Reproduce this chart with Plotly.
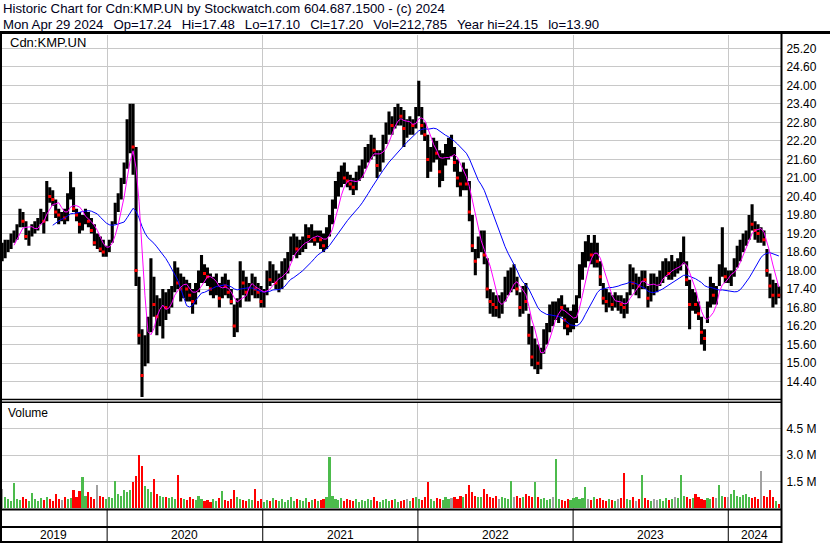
import pandas as pd
import plotly.graph_objects as go

# ---------------- data (weekly bars) ----------------
week_high = [
    18.9, 19.0, 19.0, 19.2, 19.3, 19.5, 20.0, 19.9, 19.6, 19.3,
    19.5, 19.6, 19.7, 20.0, 19.9, 20.9, 20.7, 20.6, 20.3, 20.0,
    19.9, 20.0, 20.5, 21.2, 20.7, 20.0, 19.9, 19.8, 20.0, 19.9,
    19.7, 19.5, 19.2, 19.1, 19.0, 18.8, 19.0, 19.6, 20.2, 20.5,
    21.0, 21.5, 22.9, 23.4,
    23.4, 22.0, 17.8, 16.1, 15.9, 16.5, 18.4, 17.8, 17.2, 17.1,
    17.4, 17.3, 17.4, 17.5, 18.3, 18.1, 17.9, 17.8, 17.7, 17.6,
    17.4, 17.6, 18.0, 18.5, 18.2, 18.1, 17.9, 17.8, 17.9, 17.6,
    17.8, 17.9, 17.7, 17.4, 16.9, 17.1, 18.3, 18.0, 17.8, 17.6,
    17.9, 17.8, 17.6,
    17.5, 17.4, 18.0, 18.3, 18.2, 18.0, 17.9, 18.3, 18.4, 18.6,
    19.1, 19.2, 19.1, 19.0, 19.1, 19.5, 19.4, 19.5, 19.3, 19.3, 19.3,
    19.2, 19.4, 19.8, 20.3, 20.9, 21.2, 21.4, 21.5, 21.2, 21.1,
    21.0, 21.2, 21.4, 21.6, 22.0, 22.1, 22.4, 22.3, 21.9, 21.9,
    22.4, 22.8, 23.15, 23.0,
    23.3, 23.4, 23.3, 23.2, 22.9, 23.0, 22.9, 23.3, 24.15, 23.3,
    22.8, 22.4, 22.0, 22.3, 22.2, 21.9, 21.8, 22.1, 22.3, 22.4,
    22.0, 21.6, 21.2, 21.5, 21.3, 20.9, 19.8, 18.7, 19.1, 19.3,
    19.3, 18.4, 17.4, 17.3, 17.2, 17.2, 17.3, 17.8, 18.0, 18.1,
    18.2, 17.8, 17.3,
    17.5, 17.6, 16.6, 16.2, 15.8, 15.6, 15.5, 16.1, 16.3, 16.9,
    17.0, 17.0, 17.1, 17.2, 16.9, 16.8, 16.7, 16.9, 17.2, 18.2,
    18.6, 18.95, 19.15, 18.9, 19.15, 18.9, 18.3, 17.6, 17.4, 17.3,
    17.2, 17.3, 17.2, 17.2, 17.1, 17.3, 18.2, 18.1, 17.9, 17.8, 18.0,
    18.0, 17.5, 17.9,
    17.9, 17.8, 18.0, 18.3, 18.4, 18.3, 18.5, 18.3, 18.4, 18.6,
    19.1, 18.3, 17.7, 17.4, 17.3, 17.0, 16.5, 16.1, 17.0, 17.8,
    17.6, 17.5, 18.2, 19.4, 18.1, 18.0, 18.0, 18.4, 18.8, 19.0,
    19.2, 19.3, 19.8, 20.15, 19.6, 19.5, 19.4, 19.3, 18.7, 17.9,
    17.7, 17.6, 17.48,
]

week_low = [
    18.3, 18.4, 18.6, 18.7, 18.9, 19.0, 19.4, 19.4, 19.0, 18.8,
    19.1, 19.2, 19.3, 19.5, 19.2, 19.6, 20.2, 20.1, 19.7, 19.5,
    19.6, 19.5, 19.6, 20.3, 19.9, 19.6, 19.2, 19.3, 19.5, 19.4,
    19.2, 18.8, 18.7, 18.6, 18.45, 18.45, 18.6, 18.9, 19.5, 19.9,
    20.3, 20.8, 21.3, 21.8,
    21.1, 17.5, 15.6, 13.9, 14.9, 15.0, 16.0, 16.5, 15.9, 16.2,
    15.8, 16.4, 16.6, 16.8, 17.3, 17.4, 17.0, 17.1, 17.0, 17.0,
    16.6, 16.9, 17.3, 17.6, 17.6, 17.5, 17.2, 17.1, 17.2, 16.8,
    17.1, 17.2, 17.1, 16.9, 15.85, 16.0, 16.8, 17.2, 17.0, 17.0,
    17.2, 17.1, 17.1,
    16.8, 16.8, 17.2, 17.5, 17.6, 17.4, 17.3, 17.4, 17.7, 17.9,
    18.3, 18.5, 18.4, 18.5, 18.6, 18.7, 18.9, 18.9, 18.8, 18.9, 18.7,
    18.6, 18.7, 19.1, 19.5, 20.0, 20.4, 20.7, 20.8, 20.7, 20.6,
    20.45, 20.6, 20.9, 21.0, 21.3, 21.5, 21.6, 21.7, 21.0, 21.2,
    21.5, 22.1, 22.4, 22.4,
    22.6, 22.7, 22.7, 22.0, 22.3, 22.4, 22.4, 22.6, 23.0, 22.4,
    22.2, 21.0, 21.2, 21.5, 21.6, 20.7, 20.9, 21.4, 21.6, 21.7,
    21.2, 20.7, 20.4, 20.6, 20.6, 19.6, 18.6, 17.85, 18.4, 18.6,
    18.2, 17.1, 16.6, 16.5, 16.5, 16.45, 16.6, 17.0, 17.2, 17.3,
    17.4, 17.2, 16.5,
    16.6, 16.7, 15.6, 14.9, 14.8, 14.65, 14.8, 15.3, 15.6, 16.0,
    16.2, 16.4, 16.3, 16.5, 16.1, 15.9, 16.0, 16.1, 16.3, 17.1,
    17.7, 18.1, 18.3, 18.2, 18.1, 18.1, 17.5, 16.9, 16.65, 16.8,
    16.7, 16.8, 16.7, 16.6, 16.45, 16.6, 17.2, 17.4, 17.2, 17.1, 17.4,
    17.4, 16.8, 17.0,
    17.2, 17.3, 17.5, 17.6, 17.8, 17.7, 17.7, 17.8, 17.9, 18.0,
    18.2, 17.5, 16.1, 16.7, 16.6, 16.4, 15.6, 15.4, 16.3, 16.8,
    16.9, 16.9, 17.5, 17.8, 17.6, 17.6, 17.5, 17.8, 18.1, 18.3,
    18.6, 18.8, 19.0, 19.3, 19.0, 18.9, 18.9, 18.8, 17.8, 17.1,
    16.8, 16.9, 17.1,
]

week_close = [
    18.5, 18.7, 18.8, 19.0, 19.1, 19.4, 19.8, 19.6, 19.1, 19.2,
    19.4, 19.5, 19.6, 19.8, 19.6, 20.6, 20.4, 20.3, 19.9, 19.8,
    19.8, 19.7, 20.3, 20.7, 20.0, 19.8, 19.5, 19.7, 19.8, 19.6,
    19.3, 18.9, 18.9, 18.7, 18.6, 18.7, 18.9, 19.5, 20.0, 20.3,
    20.8, 21.3, 22.5, 22.8,
    22.0, 18.0, 15.9, 14.6, 15.4, 16.2, 17.5, 16.9, 16.5, 16.6,
    16.9, 16.8, 17.1, 17.3, 17.9, 17.6, 17.4, 17.5, 17.4, 17.2,
    17.0, 17.4, 17.8, 18.1, 17.9, 17.8, 17.4, 17.5, 17.6, 17.1,
    17.6, 17.5, 17.3, 17.0, 16.2, 16.9, 17.9, 17.6, 17.3, 17.5,
    17.6, 17.4, 17.3,
    17.0, 17.2, 17.8, 17.7, 17.9, 17.6, 17.7, 18.0, 18.2, 18.4,
    18.8, 18.9, 18.7, 18.8, 18.9, 19.2, 19.1, 19.2, 19.0, 19.1, 19.0,
    18.8, 19.2, 19.6, 20.1, 20.6, 20.8, 21.1, 21.0, 20.9, 20.8,
    20.7, 21.0, 21.2, 21.4, 21.7, 21.9, 22.0, 21.9, 21.4, 21.7,
    22.2, 22.6, 22.9, 22.7,
    22.9, 23.1, 23.0, 22.6, 22.6, 22.8, 22.7, 23.1, 23.4, 22.7,
    22.4, 21.6, 21.7, 22.0, 21.8, 21.2, 21.5, 21.8, 22.0, 22.0,
    21.5, 21.0, 20.8, 21.1, 20.8, 19.9, 18.8, 18.3, 18.8, 19.0,
    18.5, 17.4, 17.0, 16.9, 16.8, 16.8, 17.0, 17.5, 17.7, 17.8,
    17.8, 17.4, 16.8,
    17.1, 17.0, 15.9, 15.2, 15.3, 15.0, 15.3, 15.9, 16.1, 16.6,
    16.6, 16.8, 16.9, 16.8, 16.4, 16.2, 16.4, 16.5, 16.9, 17.9,
    18.3, 18.6, 18.6, 18.5, 18.8, 18.3, 17.8, 17.1, 17.0, 17.1,
    16.9, 17.0, 17.0, 16.9, 16.8, 17.0, 17.8, 17.6, 17.6, 17.5, 17.8,
    17.7, 17.1, 17.6,
    17.6, 17.6, 17.8, 18.0, 18.1, 17.9, 18.1, 18.1, 18.2, 18.4,
    18.5, 17.7, 16.9, 17.0, 16.9, 16.6, 16.0, 15.8, 16.8, 17.4,
    17.2, 17.2, 17.9, 18.0, 17.8, 17.8, 17.9, 18.2, 18.6, 18.8,
    19.0, 19.1, 19.6, 19.5, 19.3, 19.2, 19.2, 19.0, 18.0, 17.5,
    17.2, 17.4, 17.2,
]

volume_m = [
    1.1, 0.6, 0.5, 0.4, 1.4, 0.5, 0.45, 0.6, 0.5, 0.4,
    0.85, 0.5, 0.4, 0.55, 0.45, 0.6, 0.5, 0.4, 0.8, 0.5,
    0.45, 0.6, 0.5, 0.55, 1.05, 0.6, 0.95, 1.75, 0.7, 0.9,
    0.6, 0.5, 1.3, 0.7, 0.6, 0.5, 0.6, 0.55, 1.55, 0.8,
    0.7, 1.05, 0.9, 1.0, 1.45, 1.8, 3.0, 2.4, 1.25, 1.1,
    0.9, 1.65, 0.8, 0.7, 0.6, 0.65, 0.55, 0.6, 0.5, 1.9,
    0.55, 0.5, 0.45, 0.6, 0.5, 0.45, 0.7, 0.5, 0.4, 0.45,
    0.35, 0.5, 0.4, 0.55, 0.95, 0.45, 0.4, 0.5, 1.0, 0.6,
    0.5, 0.45, 0.4, 0.5, 0.45, 1.1, 0.4, 0.5, 0.35, 0.45,
    0.4, 0.55, 0.45, 0.4, 0.5, 0.35, 0.45, 0.6, 0.4, 0.5,
    0.45, 0.4, 0.55, 0.35, 0.45, 0.5, 0.4, 0.45, 0.5, 0.6,
    2.9, 0.7, 0.5, 0.45, 0.55, 0.4, 0.5, 0.45, 0.4, 0.5,
    0.35, 0.45, 0.4, 0.5, 0.45, 0.6, 0.4, 0.35, 0.45, 0.5,
    0.4, 0.45, 0.5, 0.35, 0.4, 0.45, 0.5, 0.4, 0.55, 0.6,
    0.5, 0.45, 0.6, 1.45, 0.5, 0.4, 0.55, 0.5, 0.45, 0.6,
    0.5, 0.55, 0.6, 0.5, 0.7, 0.6, 0.8, 1.3, 0.9, 0.7,
    0.6, 0.65, 1.1, 0.8, 0.6, 0.55, 0.7, 0.5, 0.6, 0.55,
    0.5, 1.55, 0.6, 0.7, 0.55, 0.6, 0.8, 0.7, 0.6, 1.45,
    0.6, 0.5, 0.55, 0.45, 0.5, 0.6, 2.8, 0.5, 0.45, 0.4,
    0.5, 0.45, 0.55, 0.6, 0.5, 0.55, 1.2, 0.5, 0.45, 0.6,
    0.5, 0.55, 0.45, 0.4, 0.5, 0.45, 0.4, 0.5, 0.55, 2.0,
    0.5, 0.45, 0.6, 0.4, 0.5, 1.9, 0.55, 0.45, 0.4, 0.5,
    0.45, 0.5, 0.4, 0.55, 0.45, 0.5, 0.6, 0.55, 1.9, 0.7,
    0.6, 0.5, 0.55, 0.8, 0.6, 0.5, 0.45, 0.55, 0.5, 0.6,
    0.55, 1.3, 0.7, 0.6, 0.65, 0.8, 1.0, 0.7, 0.6, 0.75,
    0.8, 0.6, 0.55, 0.6, 0.5, 2.1, 0.7, 0.6, 1.0, 0.6, 0.4, 0.2,
]

price_ticks = [14.4, 15.0, 15.6, 16.2, 16.8, 17.4, 18.0, 18.6, 19.2, 19.8,
               20.4, 21.0, 21.6, 22.2, 22.8, 23.4, 24.0, 24.6, 25.2]
volume_ticks = [1.5, 3.0, 4.5]
volume_tick_text = ["1.5 M", "3.0 M", "4.5 M"]
years = [2019, 2020, 2021, 2022, 2023, 2024]

header_1 = "Historic Chart for Cdn:KMP.UN by Stockwatch.com 604.687.1500 - (c) 2024"
header_2_parts = ["Mon Apr 29 2024", "Op=17.24", "Hi=17.48", "Lo=17.10", "Cl=17.20",
                  "Vol=212,785", "Year hi=24.15", "lo=13.90"]

# ---------------- derived ----------------
dates = pd.date_range("2019-04-29", periods=len(week_close), freq="W-MON")
close_s = pd.Series(week_close, index=dates)
ma_short = close_s.rolling(5).mean()
ma_long = close_s.rolling(18).mean()
chg = close_s.diff().fillna(0)

W, H = 830, 543
def fx(px):
    return px / W
def fy(py):
    return 1 - py / H

X0 = pd.Timestamp("2019-04-24")
X1 = pd.Timestamp("2024-05-04")
PLOT_R = 781

FONT = "Arial, Liberation Sans, sans-serif"

# price bars as vertical segments
bx, by = [], []
for d, hi, lo in zip(dates, week_high, week_low):
    bx += [d, d, None]
    by += [lo, hi, None]

down = chg < 0
vol_colors = ["#ff0000" if c < 0 else ("#4cbb4c" if c > 0 else "#a0a0a0") for c in chg]

fig = go.Figure()
fig.add_trace(go.Scatter(x=bx, y=by, mode="lines", line=dict(color="black", width=3.1),
                         xaxis="x", yaxis="y", hoverinfo="skip", showlegend=False))
fig.add_trace(go.Scatter(x=dates[down.values], y=close_s[down].values, mode="markers",
                         marker=dict(color="red", size=3, symbol="square", line=dict(width=0)),
                         xaxis="x", yaxis="y", showlegend=False))
fig.add_trace(go.Scatter(x=dates, y=ma_long, mode="lines", line=dict(color="#0000ff", width=1),
                         xaxis="x", yaxis="y", showlegend=False))
fig.add_trace(go.Scatter(x=dates, y=ma_short, mode="lines", line=dict(color="#ff00ff", width=1),
                         xaxis="x", yaxis="y", showlegend=False))
fig.add_trace(go.Bar(x=dates, y=volume_m, marker=dict(color=vol_colors, line=dict(width=0)),
                     width=5 * 86400000, xaxis="x2", yaxis="y2", showlegend=False))

year_starts = [pd.Timestamp(f"{y}-01-01") for y in years[1:]]
grid = "#c8c8c8"
tickfont = dict(family=FONT, size=12, color="black")

fig.update_layout(
    width=W, height=H, autosize=False,
    margin=dict(l=0, r=0, t=0, b=0),
    paper_bgcolor="white", plot_bgcolor="white",
    showlegend=False,
    xaxis=dict(domain=[0, fx(PLOT_R)], anchor="y", range=[X0, X1], tickvals=year_starts,
               showticklabels=False, showgrid=True, gridcolor=grid, gridwidth=1,
               zeroline=False, showline=False, ticks=""),
    xaxis2=dict(domain=[0, fx(PLOT_R)], anchor="y2", range=[X0, X1], tickvals=year_starts,
                matches="x", showticklabels=False, showgrid=True, gridcolor=grid, gridwidth=1,
                zeroline=False, showline=False, ticks=""),
    yaxis=dict(domain=[fy(398.5), fy(35)], anchor="x", side="right",
               range=[13.854, 25.631], tickvals=price_ticks,
               ticktext=[f"{v:.2f}" for v in price_ticks], tickfont=tickfont,
               showgrid=True, gridcolor=grid, gridwidth=1, zeroline=False,
               showline=False, ticks="outside", ticklen=2, tickcolor="white"),
    yaxis2=dict(domain=[fy(509), fy(402)], anchor="x2", side="right",
                range=[-0.057, 6.02], tickvals=volume_ticks, ticktext=volume_tick_text,
                tickfont=tickfont, showgrid=True, gridcolor=grid, gridwidth=1,
                zeroline=False, showline=False, ticks="outside", ticklen=2, tickcolor="white"),
    bargap=0,
)

gap = "\u00a0\u00a0\u2009"
ann = []
ann.append(dict(text=header_1, x=fx(1), y=fy(9), xref="paper", yref="paper",
                xanchor="left", yanchor="middle", showarrow=False,
                font=dict(family=FONT, size=13.2, color="#000020")))
ann.append(dict(text=gap.join(header_2_parts), x=fx(1), y=fy(24), xref="paper",
                yref="paper", xanchor="left", yanchor="middle", showarrow=False,
                font=dict(family=FONT, size=13.2, color="#000020")))
ann.append(dict(text="Cdn:KMP.UN", x=fx(8), y=fy(42), xref="paper", yref="paper",
                xanchor="left", yanchor="middle", showarrow=False,
                font=dict(family=FONT, size=13, color="black")))
ann.append(dict(text="Volume", x=fx(6), y=fy(413), xref="paper", yref="paper",
                xanchor="left", yanchor="middle", showarrow=False,
                font=dict(family=FONT, size=12, color="black")))
for y in years:
    a = max(pd.Timestamp(f"{y}-01-01"), X0)
    b = min(pd.Timestamp(f"{y + 1}-01-01"), X1)
    mid = a + (b - a) / 2
    ann.append(dict(text=str(y), x=mid, y=fy(534.5), xref="x", yref="paper",
                    xanchor="center", yanchor="middle", showarrow=False,
                    font=dict(family=FONT, size=12, color="black")))
fig.update_layout(annotations=ann)

shapes = []
def hline(py, x0=0, x1=PLOT_R, w=2):
    shapes.append(dict(type="line", xref="paper", yref="paper", x0=fx(x0), x1=fx(x1),
                       y0=fy(py), y1=fy(py), line=dict(color="black", width=w)))
def vline(px, y0, y1, w=2):
    shapes.append(dict(type="line", xref="paper", yref="paper", x0=fx(px), x1=fx(px),
                       y0=fy(y0), y1=fy(y1), line=dict(color="black", width=w)))
hline(32.5, 0, W, 3)
hline(399.5, w=1.5)
hline(402.2, w=1.5)
hline(509.5, w=2)
hline(527, w=2)
hline(542, w=2)
vline(1, 32, H, 2)
vline(PLOT_R + 0.5, 32, H, 2)
for ys in year_starts:
    shapes.append(dict(type="line", xref="x", yref="paper", x0=ys, x1=ys,
                       y0=fy(542), y1=fy(510), line=dict(color="black", width=1)))
fig.update_layout(shapes=shapes)

fig.write_html("out.html", config={"displayModeBar": False},
               post_script="document.body.style.margin='0';document.body.style.overflow='hidden';")
